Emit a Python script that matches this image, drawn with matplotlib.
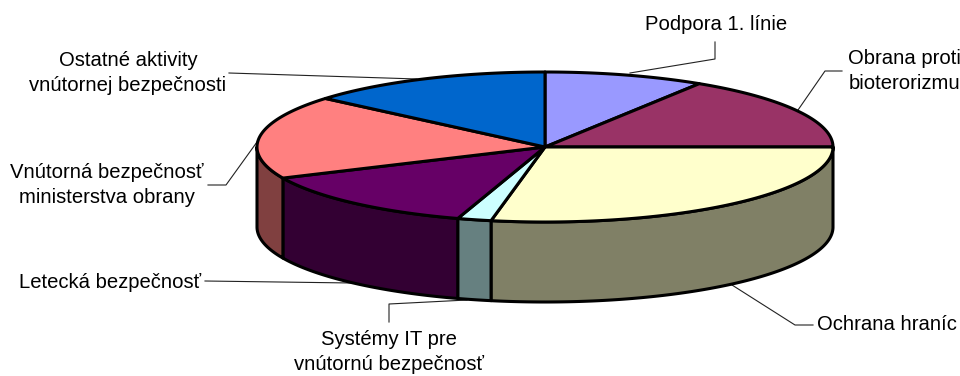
import numpy as np
import matplotlib
matplotlib.use('Agg')
import matplotlib.pyplot as plt
from matplotlib.patches import Polygon

plt.rcParams['font.family'] = ['Liberation Sans', 'DejaVu Sans']

# podiely rozpoctu v percentach, od vrchu v smere hodinovych ruciciek
labels = ['Podpora 1. línie', 'Obrana proti\nbioterorizmu', 'Ochrana hraníc',
          'Systémy IT pre\nvnútornú bezpečnosť', 'Letecká bezpečnosť',
          'Vnútorná bezpečnosť\nministerstva obrany',
          'Ostatné aktivity\nvnútornej bezpečnosti']
shares = [9.0, 16.0, 28.0, 1.9, 13.3, 18.0, 13.8]
colors = ['#9999FF', '#993366', '#FFFFCC', '#CCFFFF', '#660066', '#FF8080', '#0066CC']
side_colors = ['#4D4D80', '#4D1A33', '#808066', '#668080', '#330033', '#804040', '#003366']

# stred, polosi elipsy a hrubka kolaca v pixeloch
cx, cy = 545, 147
rx, ry = 288, 75
depth = 80
edge = 2.2


def rim(a0, a1, drop=0):
    t = np.radians(np.linspace(a0, a1, max(int(abs(a1 - a0)) * 2, 2)))
    return np.column_stack([cx + rx * np.sin(t), cy - ry * np.cos(t) + drop])


fig = plt.figure(figsize=(9.6, 3.76), dpi=100)
ax = fig.add_axes([0, 0, 1, 1])
ax.set_xlim(0, 960)
ax.set_ylim(376, 0)
ax.axis('off')

bounds = np.concatenate([[0], np.cumsum(shares) / np.sum(shares) * 360])

# bocna stena - len predna polovica (90 az 270 stupnov)
for i in range(len(shares)):
    a0 = max(bounds[i], 90)
    a1 = min(bounds[i + 1], 270)
    if a1 <= a0:
        continue
    pts = np.vstack([rim(a0, a1), rim(a1, a0, depth)])
    ax.add_patch(Polygon(pts, closed=True, facecolor=side_colors[i], edgecolor='black',
                         lw=edge, joinstyle='round', zorder=2))

# horna plocha
for i in range(len(shares)):
    pts = np.vstack([[[cx, cy]], rim(bounds[i], bounds[i + 1])])
    ax.add_patch(Polygon(pts, closed=True, facecolor=colors[i], edgecolor='black',
                         lw=edge, joinstyle='round', zorder=3))

# odkazove ciary k popisom
leaders = [
    [630, 73, 715, 59, 715, 42],
    [798, 110, 825, 71, 842, 71],
    [732, 285, 795, 325, 813, 325],
    [467, 300, 389, 304, 389, 322],
    [352, 283, 205, 281],
    [257, 142, 226, 185, 208, 185],
    [229, 73, 417, 79],
]
for c in leaders:
    ax.plot(c[0::2], c[1::2], color='#222222', lw=0.8, zorder=1)

fs = 14.6
text_pos = [(716, 25), (904, 71), (887, 325), (389, 352), (110, 282), (107, 185), (128, 73)]
for lab, (x, y) in zip(labels, text_pos):
    ax.text(x, y, lab, ha='center', va='center', ma='center', fontsize=fs, color='black',
            linespacing=1.4, zorder=5, clip_on=True)

fig.savefig('out.png', dpi=100)
